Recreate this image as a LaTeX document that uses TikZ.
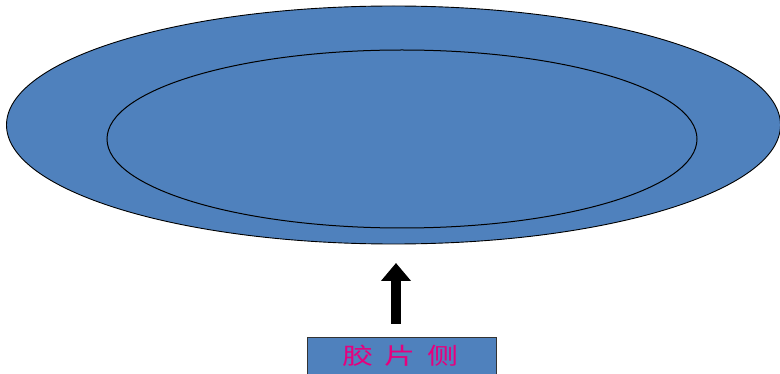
\documentclass[tikz,border=0pt]{standalone}
\usepackage{fontspec}
\newfontfamily\cjk[FakeStretch=1.35]{Noto Sans CJK SC}
\usetikzlibrary{arrows.meta}
\definecolor{discblue}{RGB}{79,129,189}
\definecolor{labelpink}{RGB}{230,0,126}
\tikzset{
  disc/.style={draw=black, line width=0.9pt, fill=discblue},
  ring/.style={draw=black, line width=1pt},
  labelbox/.style={draw=black!80, line width=0.7pt, fill=discblue},
  fatarrow/.style={line width=10pt, -{Triangle[width=29pt,length=18pt]}}
}
\begin{document}
\begin{tikzpicture}[x=1pt,y=-1pt]
\useasboundingbox (0,0) rectangle (780,374);
\clip (0,0) rectangle (780,374);
\fill[white] (0,0) rectangle (780,374);
\draw[disc] (393.5,125) ellipse [x radius=387, y radius=119];
\draw[ring] (402,139) ellipse [x radius=295, y radius=89];
\draw[labelbox] (307,337) rectangle (496,378);
\node[font=\cjk\fontsize{23}{23}\selectfont, text=labelpink, inner sep=0pt] (label) at (400.5,356) {胶\hspace{11pt}片\hspace{11pt}侧};
\coordinate (tail) at (396,324);
\coordinate (tip) at (396,263);
\draw[fatarrow] (tail) -- (tip);
\end{tikzpicture}
\end{document}
